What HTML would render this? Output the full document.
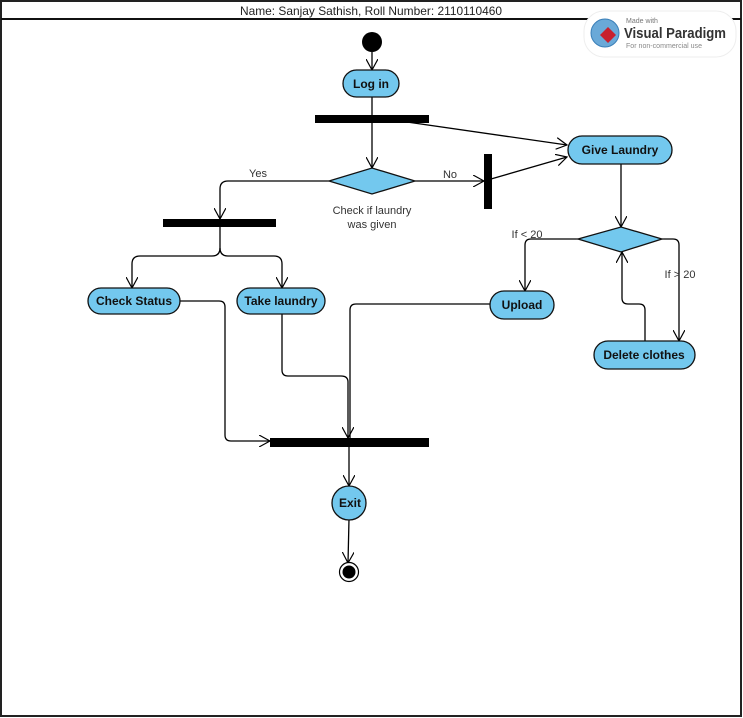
<!DOCTYPE html>
<html><head><meta charset="utf-8"><style>
html,body{margin:0;padding:0;background:#fff;}
svg{display:block;}
text{font-family:"Liberation Sans",sans-serif;}
</style></head><body>
<svg width="743" height="718" viewBox="0 0 743 718" xmlns="http://www.w3.org/2000/svg">
<defs>
<marker id="a" viewBox="0 0 12 12" refX="11" refY="6" markerWidth="12" markerHeight="12" markerUnits="userSpaceOnUse" orient="auto">
<path d="M0,0 L11,6 L0,12" fill="none" stroke="#000" stroke-width="1.2"/>
</marker>
</defs>
<rect x="1" y="1" width="740" height="715" fill="#fff" stroke="#222" stroke-width="2"/>
<line x1="1" y1="19" x2="741" y2="19" stroke="#111" stroke-width="2"/>
<text x="371" y="15" font-size="12" text-anchor="middle" fill="#222" textLength="262" lengthAdjust="spacingAndGlyphs">Name: Sanjay Sathish, Roll Number: 2110110460</text>

<!-- watermark -->
<rect x="584" y="11" width="152" height="46" rx="20" fill="#fff" stroke="#eee"/>
<circle cx="605" cy="33" r="14" fill="#6aa9d8" stroke="#3a7fb8"/>
<path d="M600,35 l8,-8 l8,8 l-8,8z" fill="#c8202e"/>
<text x="626" y="23" font-size="7" fill="#777">Made with</text>
<text x="624" y="38" font-size="15" font-weight="bold" fill="#333" textLength="102" lengthAdjust="spacingAndGlyphs">Visual Paradigm</text>
<text x="626" y="48" font-size="7" fill="#888" textLength="76" lengthAdjust="spacingAndGlyphs">For non-commercial use</text>

<g stroke="#000" stroke-width="1.3" fill="none">
<line x1="372" y1="52" x2="372" y2="70" marker-end="url(#a)"/>
<line x1="372" y1="96" x2="372" y2="115"/>
<line x1="372" y1="122" x2="372" y2="168" marker-end="url(#a)"/>
<line x1="400" y1="121" x2="567" y2="145" marker-end="url(#a)"/>
<line x1="415" y1="181" x2="484" y2="181" marker-end="url(#a)"/>
<line x1="491" y1="179" x2="567" y2="157" marker-end="url(#a)"/>
<path d="M329,181 H228 Q220,181 220,189 V219" marker-end="url(#a)"/>
<path d="M220,227 V248 Q220,256 212,256 H140 Q132,256 132,264 V288" marker-end="url(#a)"/>
<path d="M220,248 Q220,256 228,256 H274 Q282,256 282,264 V288" marker-end="url(#a)"/>
<line x1="621" y1="164" x2="621" y2="227" marker-end="url(#a)"/>
<path d="M578,239 H531 Q525,239 525,245 V291" marker-end="url(#a)"/>
<path d="M662,239 H673 Q679,239 679,245 V341" marker-end="url(#a)"/>
<path d="M645,341 V310 Q645,304 639,304 H628 Q622,304 622,298 V252" marker-end="url(#a)"/>
<path d="M180,301 H219 Q225,301 225,307 V435 Q225,441 231,441 H270" marker-end="url(#a)"/>
<path d="M282,313 V370 Q282,376 288,376 H341 Q348,376 348,382 V438" marker-end="url(#a)"/>
<path d="M490,304 H356 Q350,304 350,310 V438"/>
<line x1="349" y1="446" x2="349" y2="486" marker-end="url(#a)"/>
<line x1="349" y1="519" x2="348" y2="563" marker-end="url(#a)"/>
</g>

<circle cx="372" cy="42" r="10" fill="#000"/>
<rect x="315" y="115" width="114" height="8" fill="#000"/>
<rect x="484" y="154" width="8" height="55" fill="#000"/>
<rect x="163" y="219" width="113" height="8" fill="#000"/>
<rect x="270" y="438" width="159" height="9" fill="#000"/>

<g fill="#73c8ee" stroke="#111" stroke-width="1.3">
<rect x="343" y="70" width="56" height="27" rx="13.5"/>
<rect x="568" y="136" width="104" height="28" rx="14"/>
<path d="M329,181 L372,168 L415,181 L372,194Z"/>
<path d="M578,239 L621,227 L662,239 L621,252Z"/>
<rect x="88" y="288" width="92" height="26" rx="13"/>
<rect x="237" y="288" width="88" height="26" rx="13"/>
<rect x="490" y="291" width="64" height="28" rx="14"/>
<rect x="594" y="341" width="101" height="28" rx="14"/>
<circle cx="349" cy="503" r="17"/>
</g>

<g font-size="12" font-weight="bold" text-anchor="middle" fill="#111">
<text x="371" y="88">Log in</text>
<text x="620" y="154">Give Laundry</text>
<text x="134" y="305">Check Status</text>
<text x="281" y="305">Take laundry</text>
<text x="522" y="309">Upload</text>
<text x="644" y="359">Delete clothes</text>
<text x="350" y="507">Exit</text>
</g>
<g font-size="11" fill="#333" text-anchor="middle">
<text x="258" y="177">Yes</text>
<text x="450" y="178">No</text>
<text x="372" y="214">Check if laundry</text>
<text x="372" y="228">was given</text>
<text x="527" y="238">If &lt; 20</text>
<text x="680" y="278">If &gt; 20</text>
</g>

<circle cx="349" cy="572" r="9.5" fill="#fff" stroke="#000" stroke-width="1.2"/>
<circle cx="349" cy="572" r="6.5" fill="#000"/>
</svg>
</body></html>
